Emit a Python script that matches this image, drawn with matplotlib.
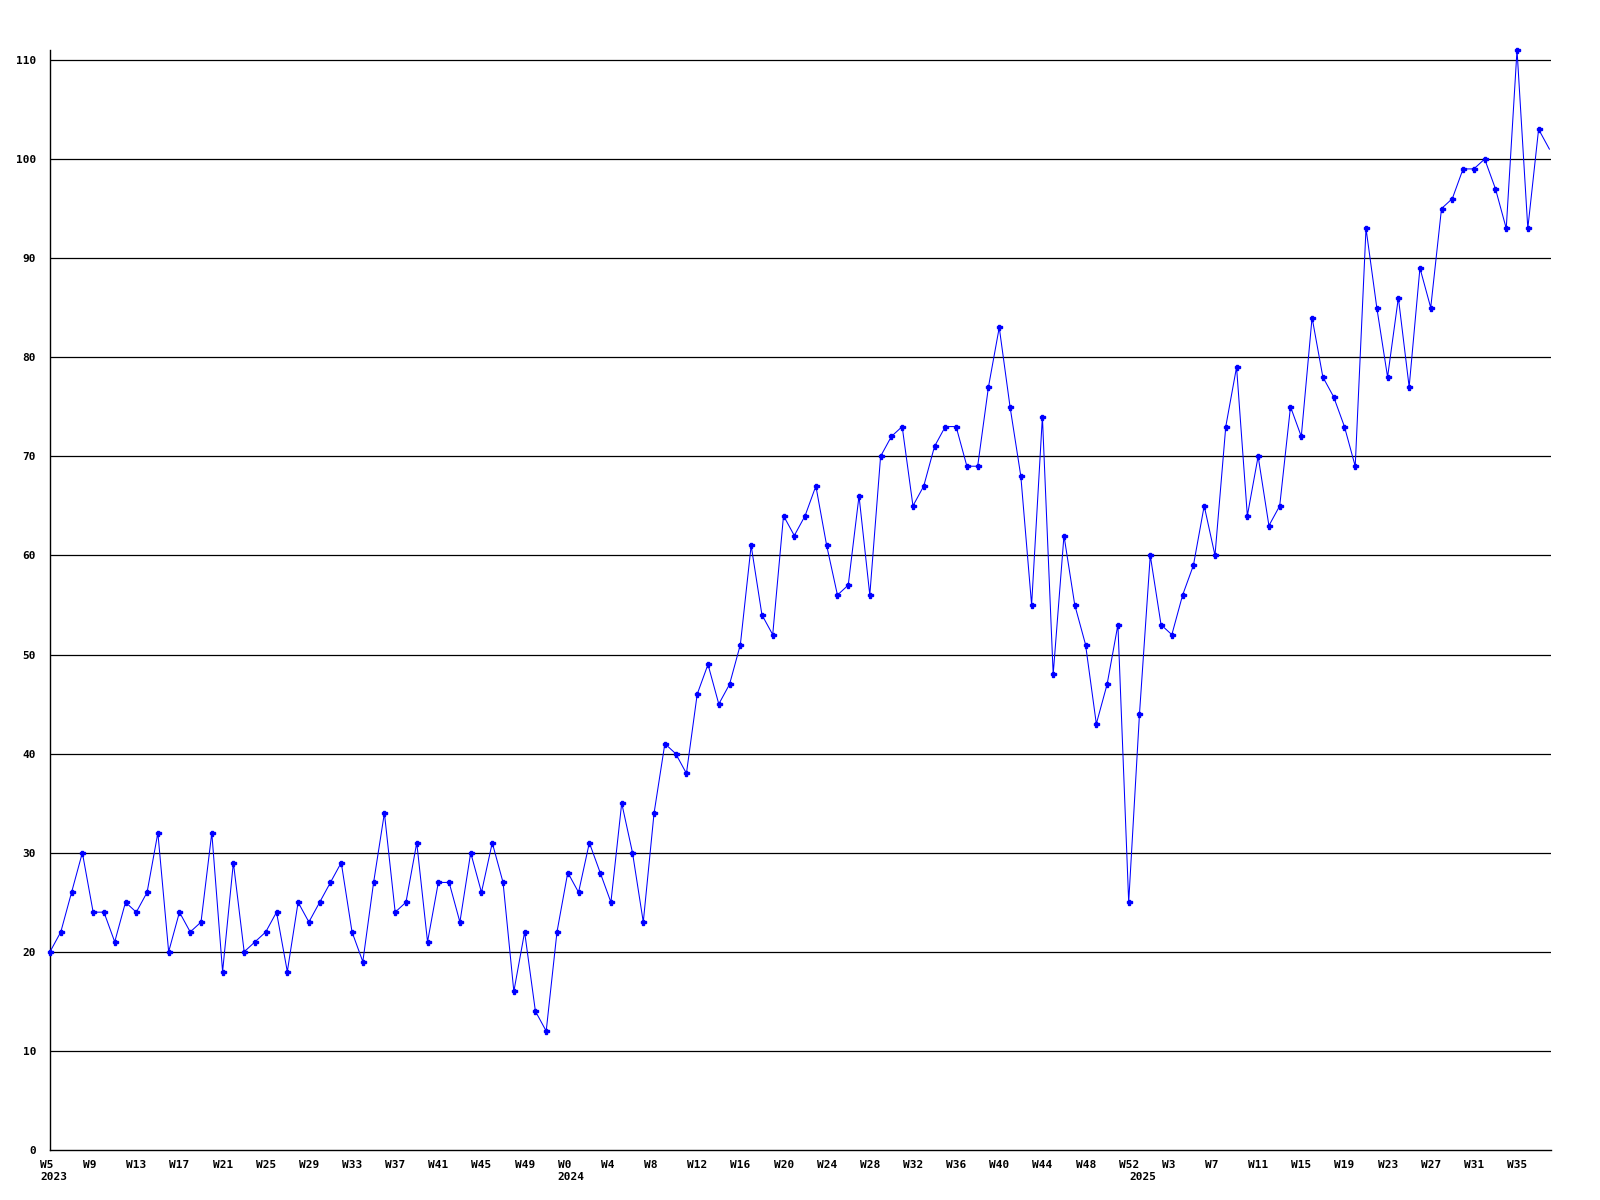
import matplotlib
matplotlib.use('Agg')
import matplotlib.pyplot as plt
import matplotlib.transforms as mtransforms

# weekly values, one list per year
years = [2023, 2024, 2025]
first_week = [5, 0, 0]
vals_2023 = [20, 22, 26, 30, 24, 24, 21, 25, 24, 26, 32, 20, 24, 22, 23, 32,
             18, 29, 20, 21, 22, 24, 18, 25, 23, 25, 27, 29, 22, 19, 27, 34,
             24, 25, 31, 21, 27, 27, 23, 30, 26, 31, 27, 16, 22, 14, 12, 22]
vals_2024 = [28, 26, 31, 28, 25, 35, 30, 23, 34, 41, 40, 38, 46, 49, 45, 47,
             51, 61, 54, 52, 64, 62, 64, 67, 61, 56, 57, 66, 56, 70, 72, 73,
             65, 67, 71, 73, 73, 69, 69, 77, 83, 75, 68, 55, 74, 48, 62, 55,
             51, 43, 47, 53, 25]
vals_2025 = [44, 60, 53, 52, 56, 59, 65, 60, 73, 79, 64, 70, 63, 65, 75, 72,
             84, 78, 76, 73, 69, 93, 85, 78, 86, 77, 89, 85, 95, 96, 99, 99,
             100, 97, 93, 111, 93, 103, 101]
yticks = [0, 10, 20, 30, 40, 50, 60, 70, 80, 90, 100, 110]

# build x labels
values = []
week_labels = []
year_starts = []
for yr, fw, vals in zip(years, first_week, [vals_2023, vals_2024, vals_2025]):
    year_starts.append(len(values))
    for i, v in enumerate(vals):
        values.append(v)
        week_labels.append('W%d' % (fw + i))
x = list(range(len(values)))

plt.rcParams['font.family'] = ['DejaVu Sans Mono']

fig = plt.figure(figsize=(16, 12), dpi=100)
ax = fig.add_axes([50 / 1600, 1 - 1150 / 1200, 1501 / 1600, 1100 / 1200])

for t in yticks[1:]:
    ax.axhline(t, color='black', lw=0.9, zorder=1)

ax.plot(x, values, color='#0000ff', lw=0.75, marker='P', ms=3.6,
        markevery=slice(0, len(values) - 1), zorder=3, clip_on=False)

ax.set_xlim(0, 139.15)
ax.set_ylim(0, 111)
for s in ['top', 'right']:
    ax.spines[s].set_visible(False)
for s in ['left', 'bottom']:
    ax.spines[s].set_linewidth(1.0)
    ax.spines[s].set_color('black')

ax.set_yticks(yticks)
ax.set_yticklabels([str(t) for t in yticks], fontsize=8, fontweight='bold')
ax.tick_params(axis='y', length=0, pad=10)

tick_pos = x[::4]
ax.set_xticks(tick_pos)
ax.set_xticklabels([week_labels[i] for i in tick_pos], fontsize=8,
                   fontweight='bold', ha='left')
ax.tick_params(axis='x', length=0, pad=7)
shift = mtransforms.ScaledTranslation(-10 / 100, 0, fig.dpi_scale_trans)
for lab in ax.get_xticklabels():
    lab.set_transform(lab.get_transform() + shift)

for yr, idx in zip(years, year_starts):
    ax.annotate(str(yr), xy=(idx, 0), xycoords=('data', 'axes fraction'),
                xytext=(-7.2, -19.5), textcoords='offset points',
                ha='left', va='center', fontsize=8, fontweight='bold')

plt.savefig('out.png', dpi=100)
